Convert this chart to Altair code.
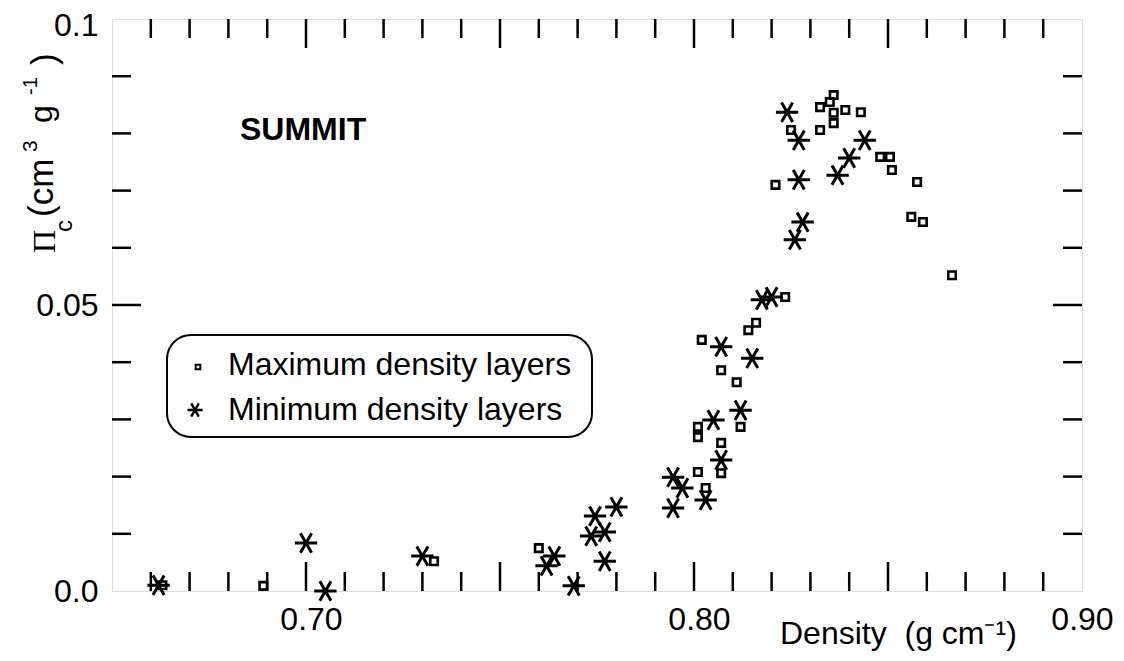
import altair as alt
import pandas as pd

# ---- data ----
max_density = [0.663, 0.689, 0.733, 0.760, 0.814, 0.816, 0.802, 0.807, 0.811, 0.812,
               0.801, 0.801, 0.807, 0.807, 0.801, 0.803, 0.8235, 0.8325, 0.836, 0.835,
               0.836, 0.836, 0.839, 0.843, 0.825, 0.8325, 0.848, 0.8505, 0.851, 0.8575,
               0.821, 0.856, 0.859, 0.8665]
max_pi = [0.0010, 0.0009, 0.0052, 0.0075, 0.0456, 0.0469, 0.0439, 0.0386, 0.0365, 0.0287,
          0.0287, 0.0269, 0.0259, 0.0206, 0.0208, 0.0180, 0.0514, 0.0846, 0.0867, 0.0855,
          0.0836, 0.0818, 0.0841, 0.0837, 0.0806, 0.0806, 0.0759, 0.0759, 0.0736, 0.0715,
          0.0710, 0.0654, 0.0645, 0.0552]

min_density = [0.662, 0.700, 0.705, 0.730, 0.764, 0.762, 0.769, 0.7745, 0.780, 0.7735,
               0.777, 0.777, 0.7946, 0.7946, 0.797, 0.803, 0.807, 0.805, 0.812, 0.807,
               0.815, 0.8175, 0.820, 0.824, 0.827, 0.844, 0.840, 0.837, 0.827, 0.828, 0.826]
min_pi = [0.0010, 0.0084, 0.0000, 0.0061, 0.0061, 0.0044, 0.0009, 0.0131, 0.0147, 0.0096,
          0.0103, 0.0052, 0.0145, 0.0199, 0.0180, 0.0159, 0.0229, 0.0299, 0.0316, 0.0427,
          0.0407, 0.0509, 0.0514, 0.0837, 0.0788, 0.0788, 0.0757, 0.0727, 0.0719, 0.0645,
          0.0614]

x_labels = [0.70, 0.80, 0.90]
y_labels = [0.0, 0.05, 0.1]
x_minor_ticks = [0.66, 0.67, 0.68, 0.69, 0.71, 0.72, 0.73, 0.74, 0.76, 0.77, 0.78, 0.79,
                 0.81, 0.82, 0.83, 0.84, 0.86, 0.87, 0.88, 0.89]
x_major_ticks = [0.70, 0.75, 0.80, 0.85]
y_minor_ticks = [0.01, 0.02, 0.03, 0.04, 0.06, 0.07, 0.08, 0.09]
y_major_ticks = [0.05]

W, H = 970, 572
FONT = "Liberation Sans"
SERIF = "Liberation Serif"
AST = "M-1,0L1,0M-0.5,-0.866L0.5,0.866M-0.5,0.866L0.5,-0.866"

xs = alt.Scale(domain=[0.65, 0.90], nice=False, zero=False)
ys = alt.Scale(domain=[0.0, 0.1], nice=False, zero=False)

df_max = pd.DataFrame({"density": max_density, "pi": max_pi})
df_min = pd.DataFrame({"density": min_density, "pi": min_pi})
one = pd.DataFrame({"k": [0]})

x_axis = alt.Axis(values=x_labels, format=".2f", ticks=False, domain=False, grid=False,
                  title=None, labelFontSize=32, labelFont=FONT, labelColor="black",
                  labelPadding=13, labelFlush=False,
                  labelOffset={"condition": {"test": "datum.value > 0.85", "value": 0},
                               "value": 5})
y_axis = alt.Axis(values=y_labels,
                  labelExpr="datum.value == 0 ? '0.0' : (datum.value > 0.09 ? '0.1' : '0.05')",
                  ticks=False, domain=False, grid=False, title=None, labelFontSize=32,
                  labelFont=FONT, labelColor="black", labelPadding=14, labelFlush=False,
                  labelOffset={"condition": {"test": "datum.value > 0.09", "value": 6},
                               "value": 0})

squares = alt.Chart(df_max).mark_point(
    shape="square", size=56, filled=False, color="black", strokeWidth=2.6, opacity=1
).encode(x=alt.X("density:Q", scale=xs, axis=x_axis),
         y=alt.Y("pi:Q", scale=ys, axis=y_axis))

stars = alt.Chart(df_min).mark_point(
    shape=AST, size=500, filled=False, color="black", strokeWidth=3, opacity=1
).encode(x=alt.X("density:Q", scale=xs, axis=x_axis),
         y=alt.Y("pi:Q", scale=ys, axis=y_axis))


def xticks(vals, y0, y1):
    return alt.Chart(pd.DataFrame({"density": vals})).mark_rule(color="black", strokeWidth=2.5).encode(
        x=alt.X("density:Q", scale=xs, axis=x_axis), y=alt.value(y0), y2=alt.value(y1))


def yticks(vals, x0, x1):
    return alt.Chart(pd.DataFrame({"pi": vals})).mark_rule(color="black", strokeWidth=2.5).encode(
        y=alt.Y("pi:Q", scale=ys, axis=y_axis), x=alt.value(x0), x2=alt.value(x1))


tick_layers = [
    xticks(x_minor_ticks, H, H - 19), xticks(x_major_ticks, H, H - 29),
    xticks(x_minor_ticks, 0, 19), xticks(x_major_ticks, 0, 29),
    yticks(y_minor_ticks, 0, 19), yticks(y_major_ticks, 0, 29),
    yticks(y_minor_ticks, W, W - 19), yticks(y_major_ticks, W, W - 29),
]


def txt(s, x, y, size, font=FONT, angle=0, weight="normal"):
    return alt.Chart(one).mark_text(
        text=s, fontSize=size, font=font, align="left", baseline="alphabetic",
        color="black", angle=angle, fontWeight=weight
    ).encode(x=alt.value(x), y=alt.value(y))


legend_box = alt.Chart(one).mark_rect(
    cornerRadius=24, fill="white", stroke="black", strokeWidth=2
).encode(x=alt.value(55), x2=alt.value(480), y=alt.value(316), y2=alt.value(418))

legend_sq = alt.Chart(one).mark_point(
    shape="square", size=22, filled=False, color="black", strokeWidth=2, opacity=1
).encode(x=alt.value(86), y=alt.value(348))
legend_st = alt.Chart(one).mark_point(
    shape=AST, size=230, filled=False, color="black", strokeWidth=2.4, opacity=1
).encode(x=alt.value(83), y=alt.value(391))

texts = [
    txt("SUMMIT", 128, 121, 32, weight="bold"),
    txt("Maximum density layers", 116, 356, 32),
    txt("Minimum density layers", 116, 401, 32),
    txt("Density\u00a0 (g cm\u207b\u00b9)", 668, 625, 32),
    # rotated y-axis title pieces
    txt("\u03a0", -57, 234, 32, font=SERIF, angle=270),
    txt("c", -40, 213, 24, angle=270),
    txt("(cm", -59, 198, 35, angle=270),
    txt("3", -75, 133, 21, angle=270),
    txt("g", -60, 104, 32, angle=270),
    txt("-1", -75, 76, 20, angle=270),
    txt(")", -56, 46, 35, angle=270),
]

chart = alt.layer(
    squares, stars, *tick_layers, legend_box, legend_sq, legend_st, *texts
).properties(
    width=W, height=H,
    padding={"left": 104, "top": 11, "right": 34, "bottom": 62},
    autosize=alt.AutoSizeParams(type="none"),
).configure_view(
    stroke="black", strokeWidth=3
).configure(background="white")

chart.save("out.html", embed_options={"renderer": "svg", "actions": False})
